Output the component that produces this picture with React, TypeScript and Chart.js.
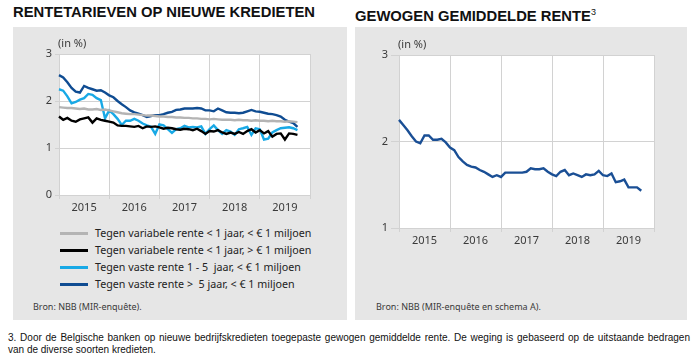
import React, { useEffect, useRef } from "react";
import Chart from "chart.js/auto";

// ---- data ----
const years = ["2015", "2016", "2017", "2018", "2019"];
const legendLabels = [
  "Tegen variabele rente < 1 jaar, < € 1 miljoen",
  "Tegen variabele rente < 1 jaar, > € 1 miljoen",
  "Tegen vaste rente 1 - 5  jaar, < € 1 miljoen",
  "Tegen vaste rente >  5 jaar, < € 1 miljoen",
];
const seriesColors = ["#b4b4b4", "#000000", "#18a9e6", "#0f4c92"];

const varSmall = [
  1.87, 1.86, 1.85, 1.85, 1.84, 1.83, 1.84, 1.82, 1.82, 1.83, 1.81, 1.82,
  1.8, 1.78, 1.76, 1.74, 1.73, 1.72, 1.72, 1.71, 1.7, 1.69, 1.69, 1.68,
  1.67, 1.67, 1.66, 1.66, 1.65, 1.65, 1.64, 1.64, 1.63, 1.63, 1.62, 1.62,
  1.61, 1.62, 1.61, 1.6, 1.6, 1.6, 1.59, 1.6, 1.59, 1.59, 1.58, 1.59,
  1.58, 1.58, 1.57, 1.58, 1.57, 1.57, 1.56, 1.57, 1.56, 1.55,
];
const varLarge = [
  1.67, 1.6, 1.64, 1.58, 1.56, 1.61, 1.63, 1.65, 1.54, 1.63, 1.6, 1.58,
  1.56, 1.54, 1.48, 1.47, 1.47, 1.46, 1.45, 1.47, 1.42, 1.46, 1.45, 1.46,
  1.44, 1.41, 1.43, 1.42, 1.4, 1.39, 1.41, 1.4, 1.38, 1.41, 1.36, 1.3,
  1.36, 1.35, 1.38, 1.33, 1.3, 1.33, 1.3, 1.34, 1.3, 1.36, 1.4, 1.33,
  1.38, 1.31, 1.36, 1.24, 1.3, 1.31, 1.18, 1.31, 1.3, 1.28,
];
const fixedShort = [
  2.25, 2.22, 2.1, 1.95, 1.98, 2.03, 2.06, 2.15, 2.13, 2.06, 2.02, 1.63,
  1.8, 1.72, 1.62, 1.49, 1.58, 1.58, 1.62, 1.58, 1.52, 1.48, 1.45, 1.3,
  1.5, 1.48, 1.4, 1.32, 1.4, 1.42, 1.47, 1.44, 1.45, 1.44, 1.46, 1.3,
  1.4, 1.48, 1.38, 1.3, 1.38, 1.35, 1.28, 1.4, 1.42, 1.45, 1.28, 1.42,
  1.4, 1.18, 1.2, 1.33, 1.38, 1.42, 1.43, 1.44, 1.42, 1.38,
];
const fixedLong = [
  2.55, 2.5, 2.4, 2.28, 2.2, 2.18, 2.32, 2.28, 2.25, 2.22, 2.23, 2.18,
  2.12, 2.08, 2.0, 1.93, 1.87, 1.8, 1.76, 1.73, 1.7, 1.66, 1.68, 1.7,
  1.7, 1.72, 1.75, 1.77, 1.81, 1.82, 1.84, 1.84, 1.84, 1.85, 1.84, 1.8,
  1.8, 1.78, 1.84, 1.8, 1.76, 1.75, 1.75, 1.74, 1.75, 1.78, 1.81, 1.78,
  1.77, 1.75, 1.73, 1.72, 1.7, 1.67, 1.6, 1.56, 1.53, 1.45,
];
const weighted = [
  2.25, 2.19, 2.13, 2.06, 2.0, 1.98, 2.07, 2.07, 2.02, 2.02, 2.03, 1.99,
  1.93, 1.9, 1.82, 1.77, 1.73, 1.71, 1.7, 1.67, 1.65, 1.62, 1.59, 1.61,
  1.59, 1.64, 1.64, 1.64, 1.64, 1.64, 1.65, 1.69, 1.68, 1.68, 1.69, 1.65,
  1.62, 1.6, 1.65, 1.67, 1.61, 1.63, 1.61, 1.59, 1.62, 1.61, 1.62, 1.66,
  1.61, 1.6, 1.63, 1.53, 1.54, 1.56, 1.47, 1.47, 1.47, 1.43,
];
const leftTicks = [0, 1, 2, 3];
const rightTicks = [1, 2, 3];

// month categories Jan 2015 .. Jan 2020
const monthLabels: string[] = [];
years.forEach((y) => {
  for (let m = 1; m <= 12; m++) monthLabels.push(y + "-" + m);
});
monthLabels.push("2020-1");

const GRID = "#d2d2d2";
const FONT = "'Noto Sans', sans-serif";
const TEXT = "#3a3a3a";

const whiteArea = {
  id: "whiteArea",
  beforeDraw(chart: any) {
    const { ctx, chartArea } = chart;
    ctx.save();
    ctx.fillStyle = "#ffffff";
    ctx.fillRect(chartArea.left, chartArea.top, chartArea.right - chartArea.left, chartArea.bottom - chartArea.top);
    ctx.restore();
  },
};

function makeOptions(cfg: {
  min: number;
  max: number;
  yTicks: number[];
  yWidth: number;
  xHeight: number;
  pad: { top: number; right: number };
  yTickLen: number;
}) {
  return {
    animation: false,
    responsive: false,
    maintainAspectRatio: false,
    layout: { padding: { top: cfg.pad.top, right: cfg.pad.right, left: 0, bottom: 0 } },
    plugins: { legend: { display: false }, tooltip: { enabled: false } },
    scales: {
      x: {
        type: "category",
        offset: false,
        grid: {
          color: (c: any) => (c.index % 12 === 0 ? GRID : "rgba(0,0,0,0)"),
          tickColor: (c: any) => (c.index % 12 === 0 ? GRID : "rgba(0,0,0,0)"),
          tickLength: 4,
        },
        border: { display: false },
        ticks: {
          autoSkip: false,
          maxRotation: 0,
          minRotation: 0,
          padding: 2,
          color: TEXT,
          font: { family: FONT, size: 11 },
          callback: (_v: any, i: number) => (i % 12 === 6 ? years[Math.floor(i / 12)] : ""),
        },
        afterFit: (s: any) => {
          s.height = cfg.xHeight;
          s.paddingLeft = 0;
          s.paddingRight = 0;
        },
      },
      y: {
        min: cfg.min,
        max: cfg.max,
        afterBuildTicks: (s: any) => {
          s.ticks = cfg.yTicks.map((v) => ({ value: v }));
        },
        grid: { color: GRID, tickColor: GRID, tickLength: cfg.yTickLen },
        border: { display: false },
        ticks: {
          padding: 3,
          color: TEXT,
          font: { family: FONT, size: 11 },
        },
        afterFit: (s: any) => {
          s.width = cfg.yWidth;
          s.paddingTop = 0;
          s.paddingBottom = 0;
        },
      },
    },
  } as any;
}

function LeftChart() {
  const ref = useRef<HTMLCanvasElement>(null);
  useEffect(() => {
    const series = [varSmall, varLarge, fixedShort, fixedLong];
    const chart = new Chart(ref.current!, {
      type: "line",
      data: {
        labels: monthLabels,
        datasets: series.map((d, k) => ({
          label: legendLabels[k],
          data: d,
          borderColor: seriesColors[k],
          borderWidth: 2.4,
          pointRadius: 0,
          tension: 0,
          fill: false,
        })),
      },
      options: makeOptions({
        min: 0,
        max: 3,
        yTicks: leftTicks,
        yWidth: 46,
        xHeight: 27,
        pad: { top: 27, right: 37 },
        yTickLen: 4,
      }),
      plugins: [whiteArea],
    });
    return () => chart.destroy();
  }, []);
  return (
    <canvas
      ref={ref}
      width={334}
      height={195}
      style={{ position: "absolute", left: 13, top: 27, width: 334, height: 195 }}
    />
  );
}

function RightChart() {
  const ref = useRef<HTMLCanvasElement>(null);
  useEffect(() => {
    const chart = new Chart(ref.current!, {
      type: "line",
      data: {
        labels: monthLabels,
        datasets: [
          {
            label: "Gewogen gemiddelde rente",
            data: weighted,
            borderColor: "#1a4f95",
            borderWidth: 2.4,
            pointRadius: 0,
            tension: 0,
            fill: false,
          },
        ],
      },
      options: makeOptions({
        min: 1,
        max: 3,
        yTicks: rightTicks,
        yWidth: 44,
        xHeight: 22,
        pad: { top: 28, right: 33 },
        yTickLen: 8,
      }),
      plugins: [whiteArea],
    });
    return () => chart.destroy();
  }, []);
  return (
    <canvas
      ref={ref}
      width={332}
      height={223}
      style={{ position: "absolute", left: 355, top: 27, width: 332, height: 223 }}
    />
  );
}

export default function App() {
  const title: React.CSSProperties = {
    position: "absolute",
    top: 4,
    fontFamily: "'Liberation Sans', Arial, sans-serif",
    fontWeight: "bold",
    fontSize: 14.8,
    lineHeight: "16px",
    color: "#111",
    whiteSpace: "nowrap",
  };
  const small: React.CSSProperties = {
    position: "absolute",
    fontFamily: FONT,
    color: TEXT,
    whiteSpace: "pre",
  };
  return (
    <div
      style={{
        position: "absolute",
        left: 0,
        top: 0,
        width: 700,
        height: 361,
        background: "#ffffff",
        overflow: "hidden",
      }}
    >
      <div style={{ ...title, left: 13 }}>RENTETARIEVEN OP NIEUWE KREDIETEN</div>
      <div style={{ ...title, left: 355 }}>
        GEWOGEN GEMIDDELDE RENTE
        <span style={{ fontSize: 9, fontWeight: "normal", verticalAlign: 6 }}>3</span>
      </div>
      <div style={{ position: "absolute", left: 13, top: 27, width: 334, height: 293, background: "#e6e6e6" }} />
      <div style={{ position: "absolute", left: 355, top: 27, width: 332, height: 293, background: "#e6e6e6" }} />
      <LeftChart />
      <RightChart />
      <div style={{ ...small, left: 58, top: 36, fontSize: 11, lineHeight: "14px" }}>(in %)</div>
      <div style={{ ...small, left: 398, top: 37, fontSize: 11, lineHeight: "14px" }}>(in %)</div>
      {legendLabels.map((l, k) => (
        <div
          key={l}
          style={{ ...small, left: 60, top: 225 + k * 17, height: 16, display: "flex", alignItems: "center", color: "#222" }}
        >
          <span style={{ display: "inline-block", width: 28, height: 3, background: seriesColors[k], marginRight: 7 }} />
          <span style={{ fontSize: 10.7, whiteSpace: "pre" }}>{l}</span>
        </div>
      ))}
      <div style={{ ...small, left: 33, top: 301, fontSize: 9, lineHeight: "12px" }}>Bron: NBB (MIR-enquête).</div>
      <div style={{ ...small, left: 376, top: 301, fontSize: 9, lineHeight: "12px" }}>
        Bron: NBB (MIR-enquête en schema A).
      </div>
      <div
        style={{
          position: "absolute",
          left: 8,
          top: 332,
          width: 682,
          fontFamily: "'Liberation Sans', Arial, sans-serif",
          fontSize: 10,
          lineHeight: "12px",
          color: "#111",
          textAlign: "justify",
          textAlignLast: "left",
        }}
      >
        3. Door de Belgische banken op nieuwe bedrijfskredieten toegepaste gewogen gemiddelde rente. De weging is
        gebaseerd op de uitstaande bedragen van de diverse soorten kredieten.
      </div>
    </div>
  );
}
